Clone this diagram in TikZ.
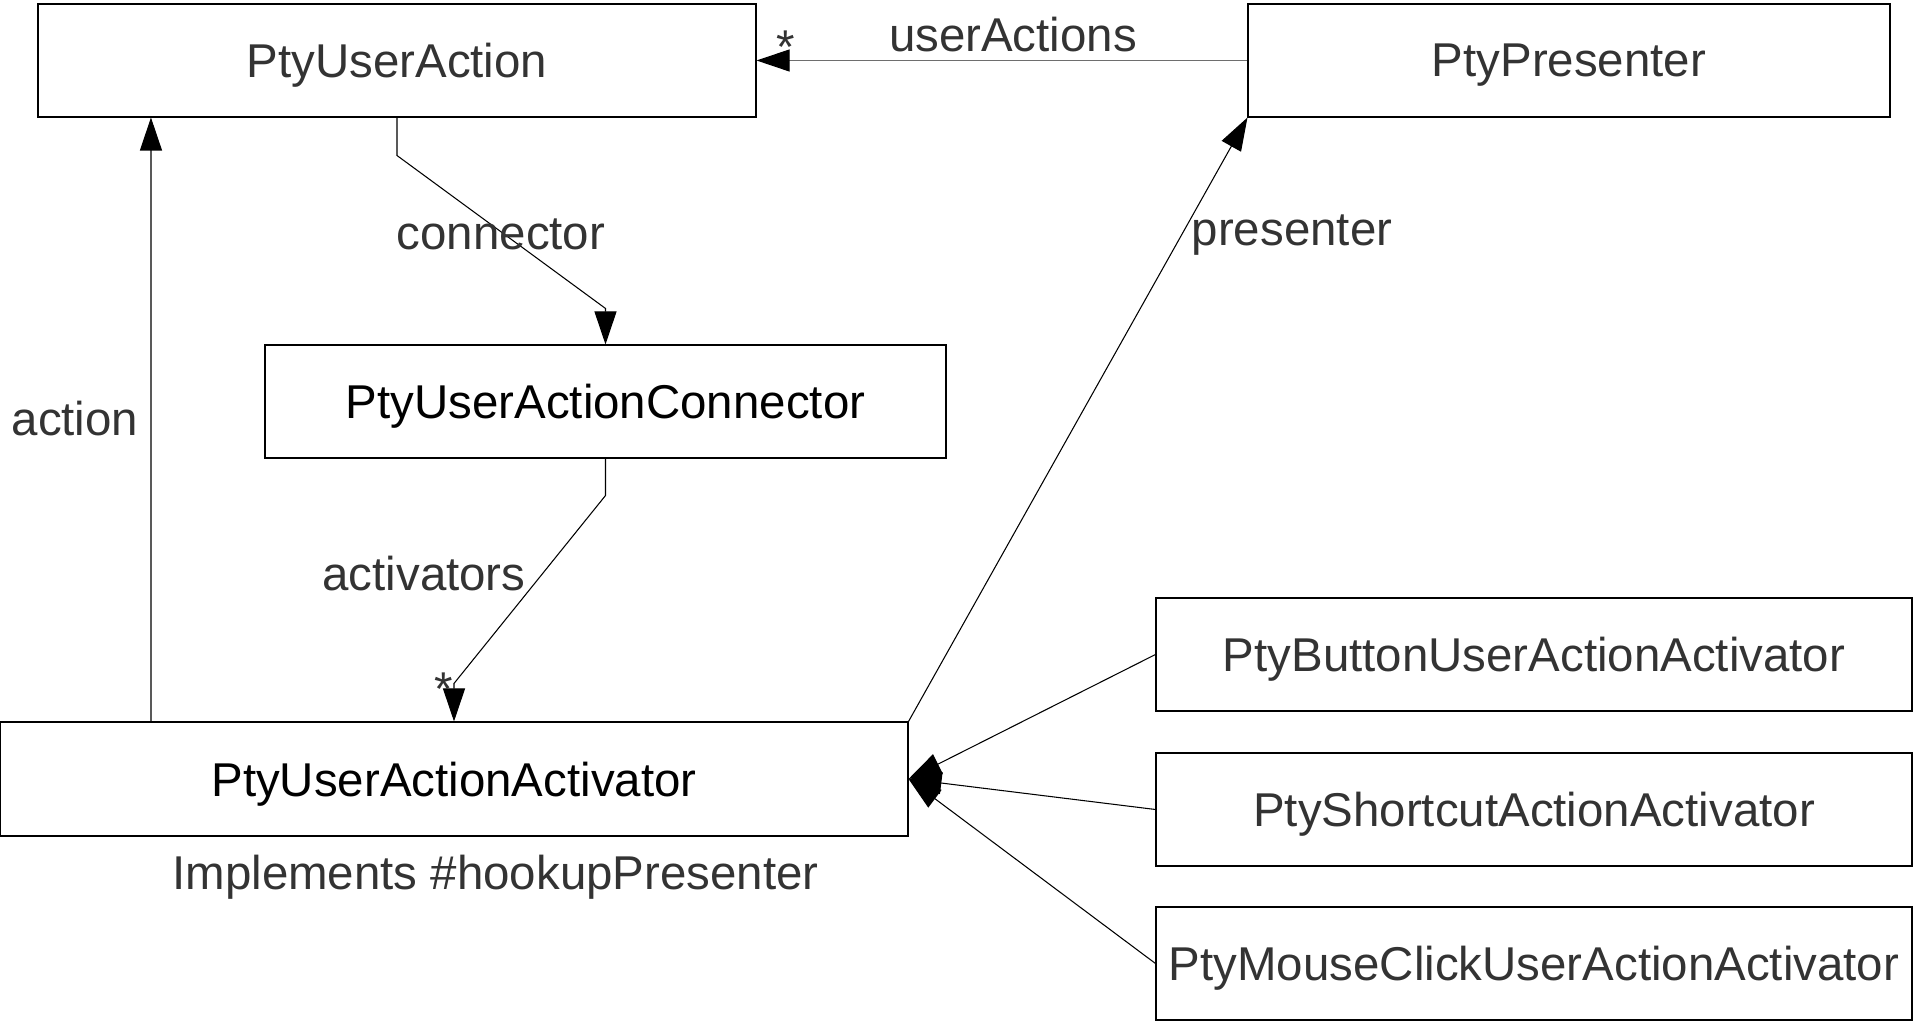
\documentclass[tikz,border=0pt]{standalone}
\usepackage{fontspec}
\setmainfont{Liberation Sans}
\usepackage{xcolor}
\definecolor{umltext}{RGB}{51,51,51}
\definecolor{umlgray}{RGB}{110,110,110}
\usepackage{tikz}
\usetikzlibrary{arrows.meta, positioning, calc}

\begin{document}
\begin{tikzpicture}[
  classbox/.style={draw=black, line width=0.6pt, minimum height=2.26cm, inner sep=0pt,
                   text depth=0pt, font=\fontsize{27}{32}\selectfont, text=umltext},
  assoc/.style={draw=black, line width=0.6pt,
                -{Triangle[length=0.66cm, width=0.44cm, color=black]}},
  lbl/.style={font=\fontsize{27}{32}\selectfont, text=umltext, inner sep=0pt}
]
  \useasboundingbox (0,0) rectangle (38.32,20.44);

  % Top row -- PtyUserAction and PtyPresenter
  \node[classbox, minimum width=14.36cm] (action) at (7.94,19.23) {PtyUserAction};
  \node[classbox, minimum width=12.84cm] (presenter) at (31.38,19.23) {PtyPresenter};

  % Middle -- the connector
  \node[classbox, minimum width=13.62cm, text=black] (connector) at (12.11,12.41)
       {PtyUserActionConnector};

  % Bottom left -- the activator
  \node[classbox, minimum width=18.16cm, minimum height=2.28cm, text=black] (activator)
       at (9.08,4.86) {PtyUserActionActivator};
  \node[lbl] (implnote) at (9.91,2.90) {Implements \#hookupPresenter};

  % Right column -- concrete activators
  \node[classbox, minimum width=15.12cm] (button) at (30.68,7.35) {PtyButtonUserActionActivator};
  \node[classbox, minimum width=15.12cm] (shortcut) at (30.68,4.25) {PtyShortcutActionActivator};
  \node[classbox, minimum width=15.12cm] (mouse) at (30.68,1.17) {PtyMouseClickUserActionActivator};

  % userActions
  \draw[assoc, draw=umlgray] (presenter.west) -- (action.east);
  \node[lbl] (ualabel) at (20.26,19.74) {userActions};
  \node[lbl, anchor=base] (uastar) at (15.72,19.16) {*};

  % connector
  \draw[assoc] (action.south) -- ++(0,-0.76) -- ($(connector.north)+(0,0.72)$) -- (connector.north);
  \node[lbl] (conlabel) at (10.02,15.76) {connector};

  % activators
  \draw[assoc] (connector.south) -- ++(0,-0.74) -- ($(activator.north)+(0,0.76)$) -- (activator.north);
  \node[lbl] (actslabel) at (8.48,8.97) {activators};
  \node[lbl, anchor=base] (actstar) at (8.88,6.32) {*};

  % action
  \draw[assoc] ([xshift=3.03cm]activator.north west) -- ([xshift=2.27cm]action.south west);
  \node[lbl] (actlabel) at (1.50,12.06) {action};

  % presenter
  \draw[assoc] (activator.north east) -- (presenter.south west);
  \node[lbl] (prelabel) at (25.84,15.74) {presenter};

  % Subclasses
  \foreach \sub in {button, shortcut, mouse}
    \draw[assoc] (\sub.west) -- (activator.east);
\end{tikzpicture}
\end{document}
